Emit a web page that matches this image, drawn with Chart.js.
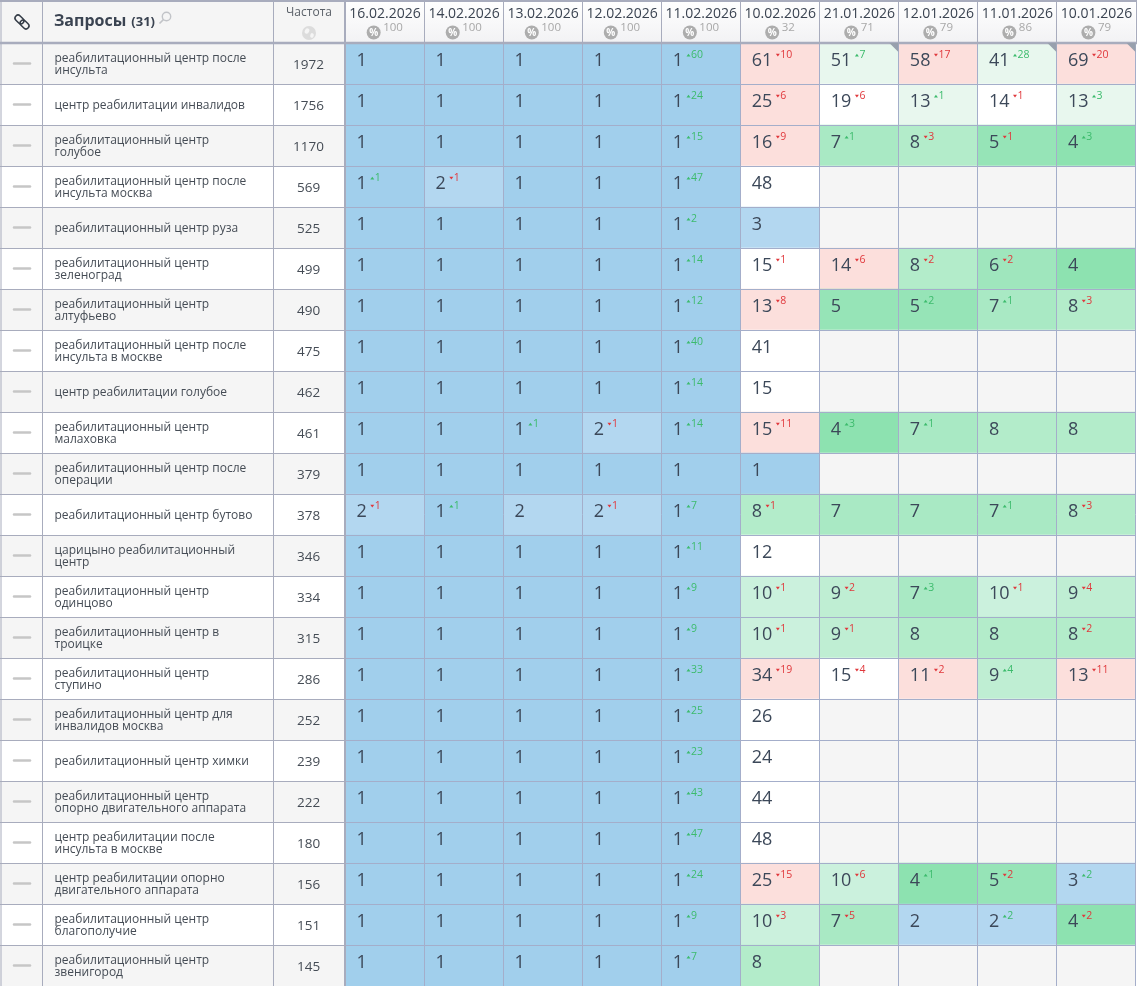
<!DOCTYPE html>
<html>
<head>
<meta charset="utf-8">
<title>Запросы</title>
<script src="https://cdn.jsdelivr.net/npm/chart.js@4"></script>
<style>
  html, body { margin: 0; padding: 0; background: #fff; }
  #wrap { position: relative; width: 1137px; height: 986px; overflow: hidden; }
</style>
</head>
<body>
<div id="wrap"><canvas id="chart" width="1137" height="986"></canvas></div>
<script>
// position table drawn as a chart: every cell is a floating bar

const dates = ["16.02.2026", "14.02.2026", "13.02.2026", "12.02.2026", "11.02.2026",
  "10.02.2026", "21.01.2026", "12.01.2026", "11.01.2026", "10.01.2026"];
const percents = [100, 100, 100, 100, 100, 32, 71, 79, 86, 79];

const queries = [
  ["реабилитационный центр после", "инсульта"],
  "центр реабилитации инвалидов",
  ["реабилитационный центр", "голубое"],
  ["реабилитационный центр после", "инсульта москва"],
  "реабилитационный центр руза",
  ["реабилитационный центр", "зеленоград"],
  ["реабилитационный центр", "алтуфьево"],
  ["реабилитационный центр после", "инсульта в москве"],
  "центр реабилитации голубое",
  ["реабилитационный центр", "малаховка"],
  ["реабилитационный центр после", "операции"],
  "реабилитационный центр бутово",
  ["царицыно реабилитационный", "центр"],
  ["реабилитационный центр", "одинцово"],
  ["реабилитационный центр в", "троицке"],
  ["реабилитационный центр", "ступино"],
  ["реабилитационный центр для", "инвалидов москва"],
  "реабилитационный центр химки",
  ["реабилитационный центр", "опорно двигательного аппарата"],
  ["центр реабилитации после", "инсульта в москве"],
  ["центр реабилитации опорно", "двигательного аппарата"],
  ["реабилитационный центр", "благополучие"],
  ["реабилитационный центр", "звенигород"]
];
const frequencies = ["1972", "1756", "1170", "569", "525", "499", "490", "475", "462", "461", "379",
  "378", "346", "334", "315", "286", "252", "239", "222", "180", "156", "151", "145"];

// positions per date, null = not measured
const rank_1602 = [1, 1, 1, 1, 1, 1, 1, 1, 1, 1, 1, 2, 1, 1, 1, 1, 1, 1, 1, 1, 1, 1, 1];
const rank_1402 = [1, 1, 1, 2, 1, 1, 1, 1, 1, 1, 1, 1, 1, 1, 1, 1, 1, 1, 1, 1, 1, 1, 1];
const rank_1302 = [1, 1, 1, 1, 1, 1, 1, 1, 1, 1, 1, 2, 1, 1, 1, 1, 1, 1, 1, 1, 1, 1, 1];
const rank_1202 = [1, 1, 1, 1, 1, 1, 1, 1, 1, 2, 1, 2, 1, 1, 1, 1, 1, 1, 1, 1, 1, 1, 1];
const rank_1102 = [1, 1, 1, 1, 1, 1, 1, 1, 1, 1, 1, 1, 1, 1, 1, 1, 1, 1, 1, 1, 1, 1, 1];
const rank_1002 = [61, 25, 16, 48, 3, 15, 13, 41, 15, 15, 1, 8, 12, 10, 10, 34, 26, 24, 44, 48, 25, 10, 8];
const rank_2101 = [51, 19, 7, null, null, 14, 5, null, null, 4, null, 7, null, 9, 9, 15, null, null, null, null, 10, 7, null];
const rank_1201 = [58, 13, 8, null, null, 8, 5, null, null, 7, null, 7, null, 7, 8, 11, null, null, null, null, 4, 2, null];
const rank_1101 = [41, 14, 5, null, null, 6, 7, null, null, 8, null, 7, null, 10, 8, 9, null, null, null, null, 5, 2, null];
const rank_1001 = [69, 13, 4, null, null, 4, 8, null, null, 8, null, 8, null, 9, 8, 13, null, null, null, null, 3, 4, null];

// change against the previous check: + went up (green), - went down (red)
const move_1602 = [0, 0, 0, 1, 0, 0, 0, 0, 0, 0, 0, -1, 0, 0, 0, 0, 0, 0, 0, 0, 0, 0, 0];
const move_1402 = [0, 0, 0, -1, 0, 0, 0, 0, 0, 0, 0, 1, 0, 0, 0, 0, 0, 0, 0, 0, 0, 0, 0];
const move_1302 = [0, 0, 0, 0, 0, 0, 0, 0, 0, 1, 0, 0, 0, 0, 0, 0, 0, 0, 0, 0, 0, 0, 0];
const move_1202 = [0, 0, 0, 0, 0, 0, 0, 0, 0, -1, 0, -1, 0, 0, 0, 0, 0, 0, 0, 0, 0, 0, 0];
const move_1102 = [60, 24, 15, 47, 2, 14, 12, 40, 14, 14, 0, 7, 11, 9, 9, 33, 25, 23, 43, 47, 24, 9, 7];
const move_1002 = [-10, -6, -9, 0, 0, -1, -8, 0, 0, -11, 0, -1, 0, -1, -1, -19, 0, 0, 0, 0, -15, -3, 0];
const move_2101 = [7, -6, 1, 0, 0, -6, 0, 0, 0, 3, 0, 0, 0, -2, -1, -4, 0, 0, 0, 0, -6, -5, 0];
const move_1201 = [-17, 1, -3, 0, 0, -2, 2, 0, 0, 1, 0, 0, 0, 3, 0, -2, 0, 0, 0, 0, 1, 0, 0];
const move_1101 = [28, -1, -1, 0, 0, -2, 1, 0, 0, 0, 0, 1, 0, -1, 0, 4, 0, 0, 0, 0, -2, 2, 0];
const move_1001 = [-20, 3, 3, 0, 0, 0, -3, 0, 0, 0, 0, -3, 0, -4, -2, -11, 0, 0, 0, 0, 2, -2, 0];

const ranks = [rank_1602, rank_1402, rank_1302, rank_1202, rank_1102, rank_1002, rank_2101, rank_1201, rank_1101, rank_1001];
const moves = [move_1602, move_1402, move_1302, move_1202, move_1102, move_1002, move_2101, move_1201, move_1101, move_1001];

// cells with the little grey corner, [column, row]
const marked_cells = [[6, 0], [8, 0], [9, 0]];

// how the page colours a position
const blue_1 = "#a1cfec";
const blue_2 = "#b3d7f0";
const greens = { 4: "#8de2b0", 5: "#96e4b7", 6: "#9fe6bd", 7: "#a9e9c4", 8: "#b3ecca", 9: "#bfeed3", 10: "#cbf1dd" };
const pink = "#fcdfdc";
const pale_green = "#e8f7ee";
const empty_cell = "#f5f5f5";
const line_color = "#a8acbd";
const cell_line_color = "#a4aeca";
const text_color = "#3c4859";
const font_name = "'Open Sans'";

// pink when the position fell a lot, or fell over one of the top-N borders
function fell_hard(rank, move) {
  const before = rank + move;
  if (move <= -10) return true;
  return [10, 20].some((limit) => before <= limit && rank > limit);
}

function cell_color(rank, move) {
  if (rank === null) return empty_cell;
  if (rank === 1) return blue_1;
  if (rank <= 3) return blue_2;
  if (rank <= 10) return greens[rank];
  if (fell_hard(rank, move)) return pink;
  if (move > 0) return pale_green;
  return "#ffffff";
}

function text_at(ctx, text, x, y, font, color, align) {
  ctx.font = font;
  ctx.fillStyle = color;
  ctx.textAlign = align || "left";
  ctx.textBaseline = "middle";
  ctx.fillText(text, x, y);
}

// row stripes and header backgrounds, all placed from the scales
function draw_back(chart) {
  const ctx = chart.ctx;
  const y = chart.scales.y;
  const x = chart.scales.x;
  const top = chart.chartArea.top;
  ctx.save();
  ctx.fillStyle = "#ffffff";
  ctx.fillRect(0, 0, chart.width, chart.height);
  queries.forEach((q, i) => {
    if (i % 2 == 0) {
      ctx.fillStyle = "#f5f5f5";
      ctx.fillRect(0, y.getPixelForValue(i) - 20.5, x.left, 41);
    }
  });
  ctx.fillStyle = "#f5f5f5";
  ctx.fillRect(0, 0, x.left, top);
  const head = ctx.createLinearGradient(0, 0, 0, top);
  head.addColorStop(0, "#ffffff");
  head.addColorStop(1, "#f2f2f4");
  ctx.fillStyle = head;
  ctx.fillRect(x.left, 0, x.right - x.left, top);
  ctx.restore();
}

function draw_line(ctx, x0, y0, x1, y1, width) {
  ctx.lineWidth = width;
  ctx.beginPath();
  ctx.moveTo(x0, y0);
  ctx.lineTo(x1, y1);
  ctx.stroke();
}

function draw_link_icon(ctx, cx, cy) {
  ctx.save();
  ctx.translate(cx, cy);
  ctx.rotate(Math.PI / 4);
  ctx.strokeStyle = "#333b46";
  ctx.lineWidth = 1.5;
  for (const off of [-3.6, 3.6]) {
    ctx.beginPath();
    ctx.roundRect(off - 5, -3, 10, 6, 3);
    ctx.stroke();
  }
  ctx.restore();
}

function draw_search_icon(ctx, cx, cy) {
  ctx.save();
  ctx.strokeStyle = "#c2c4c8";
  ctx.lineWidth = 1.4;
  ctx.beginPath();
  ctx.arc(cx + 1.5, cy - 1.5, 4.2, 0, Math.PI * 2);
  ctx.stroke();
  draw_line(ctx, cx - 1.6, cy + 1.6, cx - 5.5, cy + 5.5, 1.6);
  ctx.restore();
}

function draw_globe_icon(ctx, cx, cy) {
  ctx.save();
  ctx.fillStyle = "#dcdcdc";
  ctx.beginPath();
  ctx.arc(cx, cy, 7, 0, Math.PI * 2);
  ctx.fill();
  ctx.fillStyle = "#f5f5f5";
  ctx.beginPath();
  ctx.ellipse(cx - 2, cy - 2, 2.2, 2.8, 0.4, 0, Math.PI * 2);
  ctx.ellipse(cx + 3, cy + 2.5, 1.8, 2.4, 0.2, 0, Math.PI * 2);
  ctx.fill();
  ctx.restore();
}

function draw_percent_badge(ctx, cx, cy) {
  ctx.fillStyle = "#adadad";
  ctx.beginPath();
  ctx.arc(cx, cy, 7, 0, Math.PI * 2);
  ctx.fill();
  text_at(ctx, "%", cx, cy + 0.5, "bold 10px " + font_name, "#ffffff", "center");
}

// everything in the fixed left columns and the header that is not a tick label
function draw_table_parts(chart) {
  const ctx = chart.ctx;
  const y = chart.scales.y;
  const x = chart.scales.x;
  const top = chart.chartArea.top;
  const bottom = chart.chartArea.bottom;
  ctx.save();

  // dash column
  ctx.strokeStyle = "#c6c6c6";
  ctx.lineCap = "round";
  queries.forEach((q, i) => {
    const py = y.getPixelForValue(i);
    draw_line(ctx, 14, py, 30, py, 2.5);
  });
  ctx.lineCap = "butt";

  // lines of the left part
  ctx.strokeStyle = line_color;
  queries.forEach((q, i) => {
    const py = Math.round(y.getPixelForValue(i) + 20.5) + 0.5;
    draw_line(ctx, 0, py, x.left, py, 1);
  });
  for (const px of [1, 42.5, 273.5]) draw_line(ctx, px, 0, px, bottom, 1);
  dates.forEach((d, i) => {
    const px = Math.round(x.getPixelForValue(i + 1)) + 0.5;
    draw_line(ctx, px, 0, px, top, 1);
  });
  draw_line(ctx, 0, 1, chart.width, 1, 2);
  draw_line(ctx, 0, top, chart.width, top, 2.5);
  draw_line(ctx, x.left, 0, x.left, bottom, 2);

  // left header
  draw_link_icon(ctx, 22, 22);
  text_at(ctx, "Запросы", 54, 21, "bold 16px " + font_name, "#3a4351");
  const word_end = 54 + ctx.measureText("Запросы").width;
  text_at(ctx, "(31)", word_end + 5, 22, "bold 13px " + font_name, "#3a4351");
  draw_search_icon(ctx, 165, 18);
  text_at(ctx, "Частота", 309, 12.5, "12px " + font_name, "#5a6068", "center");
  draw_globe_icon(ctx, 309, 33);

  // percent of each date under its label
  dates.forEach((d, i) => {
    const pc = String(percents[i]);
    ctx.font = "11.5px " + font_name;
    const w = ctx.measureText(pc).width;
    const center = x.getPixelForValue(i + 0.5);
    const left = center - (w + 17) / 2;
    draw_percent_badge(ctx, left + 7.5, 32.5);
    text_at(ctx, pc, left + 17, 28, "11.5px " + font_name, "#a8a8a8");
  });

  // positions and their small change marks
  ranks.forEach((col, c) => {
    const left = x.getPixelForValue(c);
    col.forEach((rank, r) => {
      if (rank === null) return;
      const py = y.getPixelForValue(r) - 3;
      const label = String(rank);
      text_at(ctx, label, left + 11.5, py, "18px " + font_name, text_color);
      const end = left + 11.5 + ctx.measureText(label).width;
      const move = moves[c][r];
      if (move != 0) {
        const up = move > 0;
        const color = up ? "#3cbb6c" : "#e0383c";
        const my = py - 5.5;
        ctx.fillStyle = color;
        ctx.beginPath();
        ctx.moveTo(end + 3.5, my + (up ? 1.6 : -1.2));
        ctx.lineTo(end + 7.5, my + (up ? 1.6 : -1.2));
        ctx.lineTo(end + 5.5, my + (up ? -1.2 : 1.6));
        ctx.fill();
        text_at(ctx, String(Math.abs(move)), end + 8, my, "10.5px " + font_name, color);
      }
    });
  });

  // grey corners
  ctx.fillStyle = "#98a0ad";
  for (const [c, r] of marked_cells) {
    const right = x.getPixelForValue(c + 1);
    const cell_top = y.getPixelForValue(r) - 20.5;
    ctx.beginPath();
    ctx.moveTo(right - 9, cell_top);
    ctx.lineTo(right, cell_top);
    ctx.lineTo(right, cell_top + 9);
    ctx.fill();
  }
  ctx.restore();
}

const table_plugin = {
  id: "table_parts",
  beforeDraw: draw_back,
  afterDraw: draw_table_parts
};

// one dataset per date, each bar spans exactly its own column
function gen_datasets() {
  return dates.map((date, c) => ({
    label: date,
    data: queries.map(() => [c, c + 1]),
    backgroundColor: ranks[c].map((rank, r) => cell_color(rank, moves[c][r])),
    borderWidth: 0,
    grouped: false,
    barPercentage: 1,
    categoryPercentage: 1
  }));
}

// axis labels must not push the plot area away from the page edges
function no_label_margin(scale) {
  scale.paddingLeft = 0;
  scale.paddingRight = 0;
  scale.paddingTop = 0;
  scale.paddingBottom = 0;
}

const config = {
  type: "bar",
  data: { labels: queries, datasets: gen_datasets() },
  options: {
    indexAxis: "y",
    responsive: false,
    animation: false,
    devicePixelRatio: 1,
    layout: { padding: { left: 54.5, right: 1.5, top: 0, bottom: 0 } },
    plugins: { legend: { display: false }, tooltip: { enabled: false }, title: { display: false } },
    scales: {
      x: { type: "linear", min: 0, max: dates.length, display: false },
      dates_axis: {
        type: "category",
        axis: "x",
        position: "top",
        labels: dates,
        offset: true,
        afterFit: (scale) => { scale.height = 43; no_label_margin(scale); },
        border: { display: false },
        grid: { offset: true, color: cell_line_color, lineWidth: 1, z: 1, drawTicks: false },
        ticks: {
          autoSkip: false, maxRotation: 0, minRotation: 0, padding: 21, labelOffset: 0.5,
          color: "#3a4351", font: { family: "Open Sans", size: 14 }
        }
      },
      y: {
        type: "category",
        position: "left",
        weight: 2,
        offset: true,
        afterFit: (scale) => { scale.width = 219; no_label_margin(scale); },
        border: { display: false },
        grid: { offset: true, color: cell_line_color, lineWidth: 1, z: 1, drawTicks: false },
        ticks: {
          autoSkip: false, crossAlign: "far", padding: 0, labelOffset: 1,
          color: "#454c55", font: { family: "Open Sans", size: 12, lineHeight: "12px" }
        }
      },
      freq_axis: {
        type: "category",
        axis: "y",
        position: "left",
        weight: 1,
        labels: frequencies,
        offset: true,
        afterFit: (scale) => { scale.width = 71.5; no_label_margin(scale); },
        border: { display: false },
        grid: { display: false, drawTicks: false },
        ticks: {
          autoSkip: false, crossAlign: "center", padding: 21, labelOffset: 1.5,
          color: "#454c55", font: { family: "Open Sans", size: 13.5 }
        }
      }
    }
  },
  plugins: [table_plugin]
};

new Chart(document.getElementById("chart").getContext("2d"), config);
</script>
</body>
</html>
